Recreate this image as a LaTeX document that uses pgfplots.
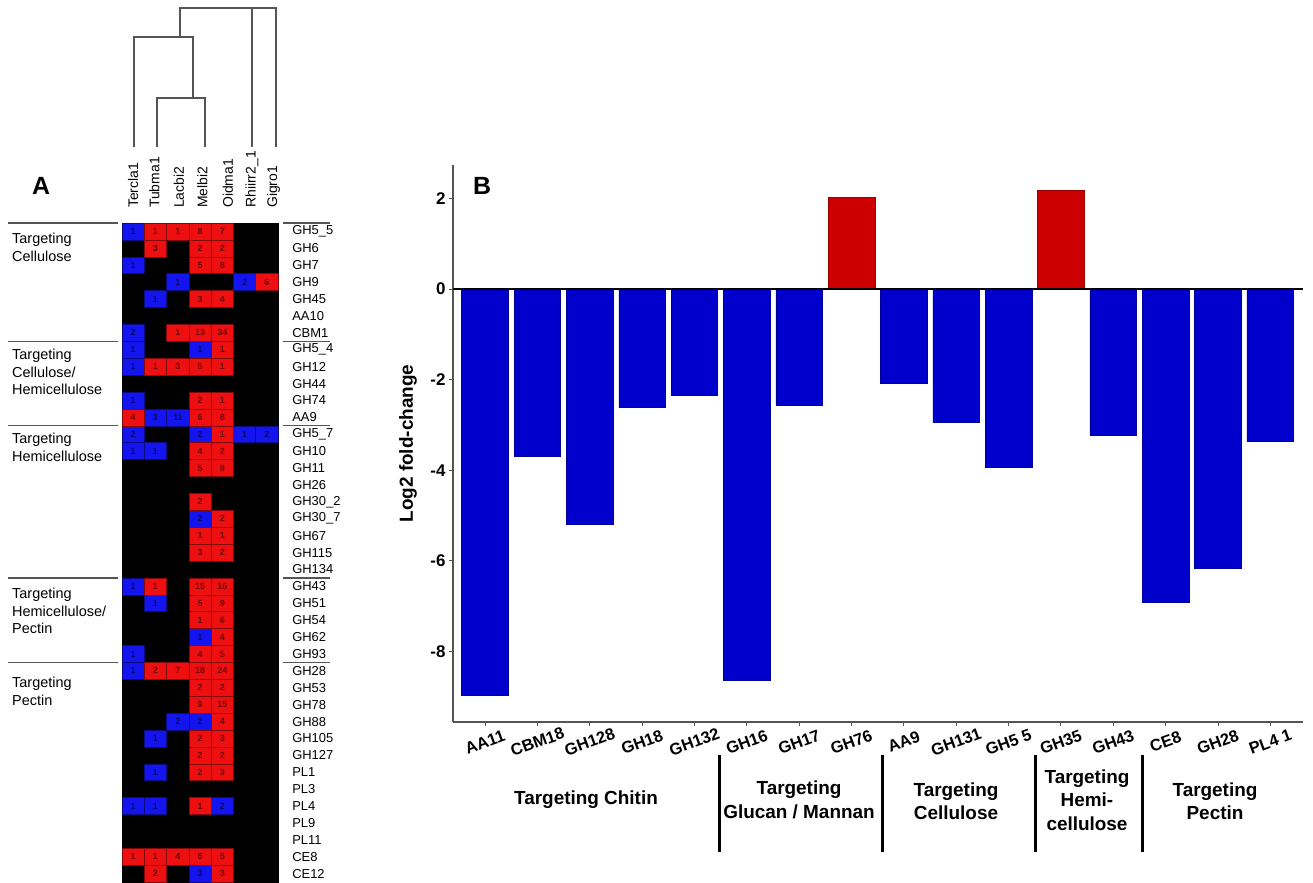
\documentclass[border=0pt]{standalone}
\usepackage{pgfplots}
\pgfplotsset{compat=1.18}
\usepackage{fontspec}
\setmainfont{Liberation Sans}

\definecolor{cellred}{RGB}{238,16,16}
\definecolor{cellblue}{RGB}{20,20,238}
\definecolor{barblue}{RGB}{0,0,204}
\definecolor{barred}{RGB}{204,0,0}
\definecolor{axgray}{RGB}{85,85,85}

% one heatmap cell, 22.3 x 16.9
\pgfdeclareplotmark{cell}{%
  \pgfpathrectangle{\pgfpoint{-11.15bp}{-8.45bp}}{\pgfpoint{22.3bp}{16.9bp}}%
  \pgfusepathqfillstroke}

\begin{document}
\begin{tikzpicture}
\path[use as bounding box] (0,0) rectangle (1313bp,-883bp);

% ---------------- Panel A: dendrogram ----------------
\begin{axis}[
  at={(122bp,0bp)}, anchor=north west, scale only axis,
  width=156bp, height=150bp,
  xmin=122, xmax=278, ymin=0, ymax=150, y dir=reverse,
  hide axis, clip=false]
\addplot[axgray, line width=1.3bp] coordinates {(134,147) (134,37) (193,37) (193,98)};
\addplot[axgray, line width=1.3bp] coordinates {(157,147) (157,98) (205,98) (205,147)};
\addplot[axgray, line width=1.3bp] coordinates {(180,37) (180,8) (276,8) (276,147)};
\addplot[axgray, line width=1.3bp] coordinates {(252,8) (252,147)};
\end{axis}

% ---------------- Panel A: heatmap ----------------
\begin{axis}[
  at={(122bp,-223bp)}, anchor=north west, scale only axis,
  width=156.1bp, height=659.1bp,
  xmin=-0.5, xmax=6.5, ymin=-0.5, ymax=38.5, y dir=reverse,
  axis background/.style={fill=black},
  axis line style={draw=black},
  major tick length=0pt,
  xtick={0,0.95,2.05,3.1,4.25,5.33,6.3},
  xticklabels={Tercla1,Tubma1,Lacbi2,Melbi2,Oidma1,Rhiirr2\_1,Gigro1},
  xticklabel pos=right,
  xticklabel style={rotate=90, anchor=west, inner sep=0pt, font=\fontsize{14}{16}\selectfont},
  xticklabel shift=15bp,
  ytick={0,...,38},
  yticklabels={GH5\_5,GH6,GH7,GH9,GH45,AA10,CBM1,GH5\_4,GH12,GH44,GH74,AA9,
    GH5\_7,GH10,GH11,GH26,GH30\_2,GH30\_7,GH67,GH115,GH134,
    GH43,GH51,GH54,GH62,GH93,
    GH28,GH53,GH78,GH88,GH105,GH127,PL1,PL3,PL4,PL9,PL11,CE8,CE12},
  yticklabel pos=right,
  yticklabel style={anchor=west, inner sep=0pt, font=\fontsize{13}{14}\selectfont},
  yticklabel shift=14bp,
  clip=false,
  point meta=explicit symbolic,
  nodes near coords,
  nodes near coords style={anchor=center, inner sep=0pt,
    font=\fontsize{9}{9}\selectfont\bfseries, text=black, text opacity=0.55},
]
% fewer copies than the mean (blue)
\addplot[only marks, mark=cell,
  mark options={fill=cellblue, draw=black!45!cellblue, line width=0.6bp}]
coordinates {
 (0,0)[1] (0,2)[1] (2,3)[1] (5,3)[2] (1,4)[1] (0,6)[2]
 (0,7)[1] (3,7)[1] (0,8)[1] (0,10)[1] (1,11)[3] (2,11)[11]
 (0,12)[2] (3,12)[2] (5,12)[1] (6,12)[2] (0,13)[1] (1,13)[1] (3,17)[2]
 (0,21)[1] (1,22)[1] (3,24)[1] (0,25)[1]
 (0,26)[1] (2,29)[2] (3,29)[2] (1,30)[1] (1,32)[1]
 (0,34)[1] (1,34)[1] (4,34)[2] (3,38)[3]
};
% more copies than the mean (red)
\addplot[only marks, mark=cell,
  mark options={fill=cellred, draw=black!45!cellred, line width=0.6bp}]
coordinates {
 (1,0)[1] (2,0)[1] (3,0)[8] (4,0)[7]
 (1,1)[3] (3,1)[2] (4,1)[2]
 (3,2)[5] (4,2)[8]
 (6,3)[6]
 (3,4)[3] (4,4)[4]
 (2,6)[1] (3,6)[13] (4,6)[34]
 (4,7)[1]
 (1,8)[1] (2,8)[3] (3,8)[5] (4,8)[1]
 (3,10)[2] (4,10)[1]
 (0,11)[4] (3,11)[6] (4,11)[8]
 (4,12)[1]
 (3,13)[4] (4,13)[2]
 (3,14)[5] (4,14)[8]
 (3,16)[2]
 (4,17)[2]
 (3,18)[1] (4,18)[1]
 (3,19)[3] (4,19)[2]
 (1,21)[1] (3,21)[15] (4,21)[16]
 (3,22)[5] (4,22)[9]
 (3,23)[1] (4,23)[6]
 (4,24)[4]
 (3,25)[4] (4,25)[5]
 (1,26)[2] (2,26)[7] (3,26)[18] (4,26)[24]
 (3,27)[2] (4,27)[2]
 (3,28)[9] (4,28)[15]
 (4,29)[4]
 (3,30)[2] (4,30)[3]
 (3,31)[2] (4,31)[2]
 (3,32)[2] (4,32)[3]
 (3,34)[1]
 (0,37)[1] (1,37)[1] (2,37)[4] (3,37)[6] (4,37)[5]
 (1,38)[2] (4,38)[3]
};
\end{axis}

% group separators and names of panel A
\foreach \yy in {223,341.3,425.8,577.9,662.4}{
  \draw[axgray, line width=1.3bp] (8bp,-\yy bp) -- (118bp,-\yy bp);
  \draw[axgray, line width=1.3bp] (283bp,-\yy bp) -- (330bp,-\yy bp);
}
\begin{scope}[every node/.style={anchor=north west, inner sep=0pt, align=left,
    font=\fontsize{14.5}{17.5}\selectfont}]
\node at (12bp,-233bp) {Targeting\\Cellulose};
\node at (12bp,-349bp) {Targeting\\Cellulose/\\Hemicellulose};
\node at (12bp,-433bp) {Targeting\\Hemicellulose};
\node at (12bp,-588bp) {Targeting\\Hemicellulose/\\Pectin};
\node at (12bp,-677bp) {Targeting\\Pectin};
\end{scope}
\node[font=\fontsize{25}{25}\selectfont\bfseries] at (41bp,-186bp) {A};

% ---------------- Panel B: bar chart ----------------
\begin{axis}[
  at={(453bp,-722bp)}, anchor=south west, scale only axis,
  width=850bp, height=557bp,
  xmin=-0.611, xmax=15.625, ymin=-9.558, ymax=2.737,
  axis x line=bottom, axis y line=left,
  axis line style={-, draw=axgray, line width=1.3bp},
  tick align=outside, major tick length=4bp,
  tick style={axgray, line width=0.8bp},
  xtick={0,...,15},
  xticklabels={AA11,CBM18,GH128,GH18,GH132,GH16,GH17,GH76,AA9,GH131,GH5 5,GH35,GH43,CE8,GH28,PL4 1},
  xticklabel style={rotate=20, anchor=center, inner sep=0pt,
    font=\fontsize{16.5}{16.5}\selectfont\bfseries},
  xticklabel shift=16bp,
  ytick={-8,-6,-4,-2,0,2},
  yticklabel style={font=\fontsize{17}{17}\selectfont\bfseries,
    /pgf/number format/assume math mode=true},
  ylabel={Log2 fold-change},
  every axis y label/.style={at={(axis description cs:-0.053,0.5)}, rotate=90,
    anchor=center, font=\fontsize{19}{19}\selectfont\bfseries},
  clip=false,
]
\addplot[ybar, bar width=0.89, bar shift=0pt, fill=barblue,
  draw=barblue!75!black, line width=0.5bp]
coordinates {(0,-8.96) (1,-3.70) (2,-5.19) (3,-2.60) (4,-2.35) (5,-8.63) (6,-2.57)
  (8,-2.09) (9,-2.95) (10,-3.94) (12,-3.22) (13,-6.92) (14,-6.17) (15,-3.37)};
\addplot[ybar, bar width=0.89, bar shift=0pt, fill=barred,
  draw=barred!75!black, line width=0.5bp]
coordinates {(7,2.02) (11,2.17)};
\draw[black, line width=1.1bp] (axis cs:-0.611,0) -- (axis cs:15.625,0);
\end{axis}

\node[font=\fontsize{25}{25}\selectfont\bfseries] at (482bp,-186bp) {B};

% substrate groups under the bars
\foreach \xx in {719,882,1035,1142}{
  \draw[black, line width=3bp] (\xx bp,-755bp) -- (\xx bp,-852bp);
}
\begin{scope}[every node/.style={anchor=center, inner sep=0pt, align=center,
    font=\fontsize{19}{23.5}\selectfont\bfseries}]
\node at (586bp,-800bp) {Targeting Chitin};
\node at (799bp,-800bp) {Targeting\\Glucan / Mannan};
\node at (956bp,-801bp) {Targeting\\Cellulose};
\node at (1087bp,-800bp) {Targeting\\Hemi-\\cellulose};
\node at (1215bp,-801bp) {Targeting\\Pectin};
\end{scope}
\end{tikzpicture}
\end{document}
